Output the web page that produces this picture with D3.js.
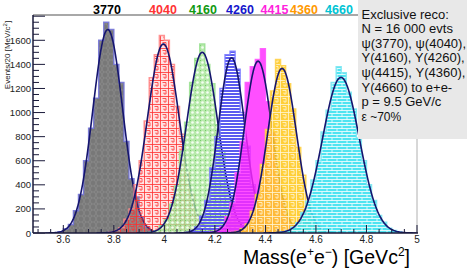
<!DOCTYPE html>
<html>
<head>
<meta charset="utf-8">
<script src="https://cdn.jsdelivr.net/npm/d3@7"></script>
<style>
body { margin: 0; background: #fff; }
svg { display: block; font-family: "Liberation Sans", Arial, sans-serif; }
</style>
</head>
<body>
<div id="chart"></div>
<script>
// resonance names, as printed above the plot
const resonances = ["3770", "4040", "4160", "4260", "4415", "4360", "4660"];

// histograms: 20 MeV bins, first left edge per resonance (GeV)
const binWidth = 0.02;
const binStart = [3.58, 3.78, 3.92, 4.08, 4.18, 4.26, 4.44];
const counts3770 = [10, 35, 70, 185, 320, 600, 870, 1120, 1600, 1750, 1690, 1400, 1250, 760, 450, 300, 130, 50, 20, 6];
const counts4040 = [6, 22, 45, 115, 200, 400, 600, 930, 1290, 1480, 1640, 1600, 1400, 1050, 820, 500, 320, 150, 85, 30, 12, 4];
const counts4160 = [3, 10, 20, 60, 110, 240, 390, 680, 920, 1250, 1450, 1570, 1400, 1240, 900, 680, 390, 240, 110, 50, 25, 8, 3];
const counts4260 = [5, 22, 50, 140, 270, 540, 800, 1200, 1480, 1510, 1360, 1000, 720, 400, 220, 90, 40, 10, 4];
const counts4415 = [6, 24, 50, 135, 250, 500, 760, 1250, 1380, 1440, 1530, 1090, 830, 490, 300, 130, 62, 20, 8];
const counts4360 = [4, 12, 35, 75, 180, 320, 570, 860, 1180, 1440, 1390, 1240, 1030, 710, 480, 250, 135, 55, 20, 7];
const counts4660 = [4, 10, 20, 48, 85, 170, 265, 440, 600, 840, 1020, 1250, 1380, 1330, 1170, 1030, 790, 600, 400, 270, 145, 90, 40, 22, 8, 3];
const allCounts = [counts3770, counts4040, counts4160, counts4260, counts4415, counts4360, counts4660];

// gaussian fit results
const fitMean = [3.776, 3.996, 4.150, 4.266, 4.371, 4.466, 4.699];
const fitSigma = [0.059, 0.063, 0.062, 0.053, 0.055, 0.057, 0.073];
const fitPeak = [1690, 1570, 1500, 1455, 1427, 1367, 1292];

const xTicks = [3.6, 3.8, 4, 4.2, 4.4, 4.6, 4.8, 5];
const yTicks = [0, 200, 400, 600, 800, 1000, 1200, 1400, 1600];

const infoLines = ["Exclusive reco:", "N = 16 000 evts", "\u03c8(3770), \u03c8(4040),", "Y(4160), Y(4260),",
  "\u03c8(4415), Y(4360),", "Y(4660) to e+e-", "p = 9.5 GeV/c", "\u03b5 ~70%"];

const width = 467, height = 270;
const margin = {top: 15, right: 49, bottom: 37, left: 33};

const svg = d3.select("#chart").append("svg").attr("width", width).attr("height", height);

const x = d3.scaleLinear().domain([3.48, 5]).range([margin.left, width - margin.right - 1]);
const y = d3.scaleLinear().domain([0, 1810]).range([height - margin.bottom, margin.top]);

const defs = svg.append("defs");
function pat(id, w, h) {
  return defs.append("pattern").attr("id", id).attr("patternUnits", "userSpaceOnUse")
    .attr("width", w).attr("height", h);
}
let p = pat("pGray", 6, 6);
p.append("rect").attr("width", 6).attr("height", 6).attr("fill", "#787878");
p.append("path").attr("d", "M0,3 L1.5,0 H4.5 L6,3 L4.5,6 H1.5 Z")
  .attr("fill", "none").attr("stroke", "#929292").attr("stroke-width", 0.6);
p = pat("pRed", 8, 8);
p.append("rect").attr("width", 8).attr("height", 8).attr("fill", "rgba(255,110,110,0.2)");
p.append("path").attr("d", "M0,0.5 H8 M0.5,0 V8 M2.5,2.5 H6 V6 H4 V4.5")
  .attr("fill", "none").attr("stroke", "#ff3030").attr("stroke-width", 0.8);
p = pat("pGreen", 5, 5);
p.append("rect").attr("width", 5).attr("height", 5).attr("fill", "rgba(165,228,150,0.8)");
p.append("circle").attr("cx", 2.5).attr("cy", 2.5).attr("r", 1.3).attr("fill", "#f4fff2");
p.append("circle").attr("cx", 0.6).attr("cy", 0.6).attr("r", 0.5).attr("fill", "#5cbf50");
p = pat("pBlue", 4, 3);
p.append("rect").attr("width", 4).attr("height", 2).attr("fill", "#5b5bf0");
p = pat("pOrange", 8, 8);
p.append("rect").attr("width", 8).attr("height", 8).attr("fill", "rgba(255,200,30,0.88)");
p.append("path").attr("d", "M0,0.5 H8 M0.5,0 V8 M2.5,2.5 H6 V6 H4 V4.5")
  .attr("fill", "none").attr("stroke", "#fff6d8").attr("stroke-width", 0.8);
p = pat("pCyan", 10, 6);
p.append("rect").attr("width", 10).attr("height", 6).attr("fill", "rgba(60,225,240,0.9)");
p.append("path").attr("d", "M0,2.5 H10 M0,5.5 H10 M2,0 V2.5 M7,3 V5.5")
  .attr("fill", "none").attr("stroke", "#ffffff").attr("stroke-width", 0.8);

const fills = ["url(#pGray)", "url(#pRed)", "url(#pGreen)", "url(#pBlue)", "rgba(255,40,255,0.82)", "url(#pOrange)", "url(#pCyan)"];
const edges = ["#7474d8", "#ff8a8a", "#9ae092", "#7a7aff", "#ff55ff", "#ffd24a", "#7ae6f2"];
const labelColors = ["#000000", "#ff3333", "#119911", "#1515cc", "#ff22dd", "#ff9900", "#00c4d4"];
const labelX = [107, 163, 203, 240, 274.5, 304, 339];

defs.append("clipPath").attr("id", "plotClip").append("rect")
  .attr("x", margin.left).attr("y", margin.top)
  .attr("width", x.range()[1] - margin.left).attr("height", y(0) - margin.top);

const plot = svg.append("g").attr("clip-path", "url(#plotClip)");

const stepLine = d3.line().x(d => x(d[0])).y(d => y(d[1])).curve(d3.curveStepAfter);
const stepArea = d3.area().x(d => x(d[0])).y0(y(0)).y1(d => y(d[1])).curve(d3.curveStepAfter);
const fitLine = d3.line().x(d => x(d[0])).y(d => y(d[1]));

allCounts.forEach((counts, i) => {
  const s = binStart[i];
  const pts = [[s, 0]].concat(counts.map((c, j) => [s + j * binWidth, c]));
  pts.push([s + counts.length * binWidth, 0]);
  plot.append("path").attr("d", stepArea(pts)).attr("fill", fills[i]);
  plot.append("path").attr("d", stepLine(pts)).attr("fill", "none")
    .attr("stroke", edges[i]).attr("stroke-width", 1.4).attr("stroke-opacity", 0.9);

  const m = fitMean[i], sg = fitSigma[i];
  const fit = d3.range(m - 4.2 * sg, m + 4.2 * sg, 0.004)
    .map(v => [v, fitPeak[i] * Math.exp(-0.5 * ((v - m) / sg) ** 2)]);
  plot.append("path").attr("d", fitLine(fit)).attr("fill", "none")
    .attr("stroke", "#15156e").attr("stroke-width", 1.6).attr("stroke-linejoin", "round");
});

// frame
const x0 = margin.left, x1 = x.range()[1], yb = y(0);
svg.append("line").attr("x1", x0).attr("x2", x1).attr("y1", margin.top).attr("y2", margin.top)
  .attr("stroke", "#a8a8a8").attr("stroke-width", 2);
svg.append("line").attr("x1", x1).attr("x2", x1).attr("y1", margin.top).attr("y2", yb)
  .attr("stroke", "#b0b0b0").attr("stroke-width", 1);
svg.append("line").attr("x1", x0).attr("x2", x1 + 1).attr("y1", yb).attr("y2", yb)
  .attr("stroke", "#1a1a3a").attr("stroke-width", 1.5);
svg.append("line").attr("x1", x0).attr("x2", x0).attr("y1", margin.top).attr("y2", yb)
  .attr("stroke", "#1a1a3a").attr("stroke-width", 1.5);

// y ticks (inside) and labels
const axisG = svg.append("g").attr("stroke", "#1a1a3a").attr("stroke-width", 1);
d3.range(0, 1801, 50).forEach(v => {
  const major = v % 200 === 0;
  axisG.append("line").attr("x1", x0).attr("x2", x0 + (major ? 12 : 6))
    .attr("y1", y(v)).attr("y2", y(v));
});
svg.append("g").selectAll("text").data(yTicks).join("text")
  .attr("x", x0 - 2).attr("y", d => y(d) + 3.5).attr("text-anchor", "end")
  .attr("font-size", 9.5).attr("fill", "#222").text(d => d);

// x ticks (inside) and labels
d3.range(3.5, 5.001, 0.05).forEach(v => {
  const major = Math.abs(v * 5 - Math.round(v * 5)) < 1e-6;
  axisG.append("line").attr("x1", x(v)).attr("x2", x(v))
    .attr("y1", yb).attr("y2", yb - (major ? 8 : 4));
});
svg.append("g").selectAll("text").data(xTicks).join("text")
  .attr("x", d => x(d)).attr("y", yb + 10).attr("text-anchor", "middle")
  .attr("font-size", 10).attr("fill", "#222").text(d => d3.format("")(d));

// axis titles
const yt = svg.append("text").attr("transform", "translate(10,55) rotate(-90)")
  .attr("text-anchor", "middle").attr("font-size", 8).attr("fill", "#222");
yt.append("tspan").text("Events/20 [MeV/c");
yt.append("tspan").attr("dy", -3).attr("font-size", 6).text("2");
yt.append("tspan").attr("dy", 3).text("]");

const xt = svg.append("text").attr("x", 410).attr("y", 264).attr("text-anchor", "end")
  .attr("font-size", 19.5).attr("fill", "#000");
xt.append("tspan").text("Mass(e");
xt.append("tspan").attr("dy", -8).attr("font-size", 12).text("+");
xt.append("tspan").attr("dy", 8).text("e");
xt.append("tspan").attr("dy", -8).attr("font-size", 12).text("\u2212");
xt.append("tspan").attr("dy", 8).text(") [GeVc");
xt.append("tspan").attr("dy", -8).attr("font-size", 12).text("2");
xt.append("tspan").attr("dy", 8).text("]");

// resonance labels on top
svg.append("g").selectAll("text").data(resonances).join("text")
  .attr("x", (d, i) => labelX[i]).attr("y", 13.5).attr("text-anchor", "middle")
  .attr("font-size", 12.5).attr("font-weight", "bold")
  .attr("fill", (d, i) => labelColors[i]).text(d => d);

// info box
svg.append("rect").attr("x", 358).attr("y", 0).attr("width", 109).attr("height", 139)
  .attr("fill", "#e8e8e8");
svg.append("g").selectAll("text").data(infoLines).join("text")
  .attr("x", 361.5).attr("y", (d, i) => 18.5 + i * 14.6)
  .attr("font-size", (d, i) => i === infoLines.length - 1 ? 12 : 13)
  .attr("fill", "#111").text(d => d);
</script>
</body>
</html>
